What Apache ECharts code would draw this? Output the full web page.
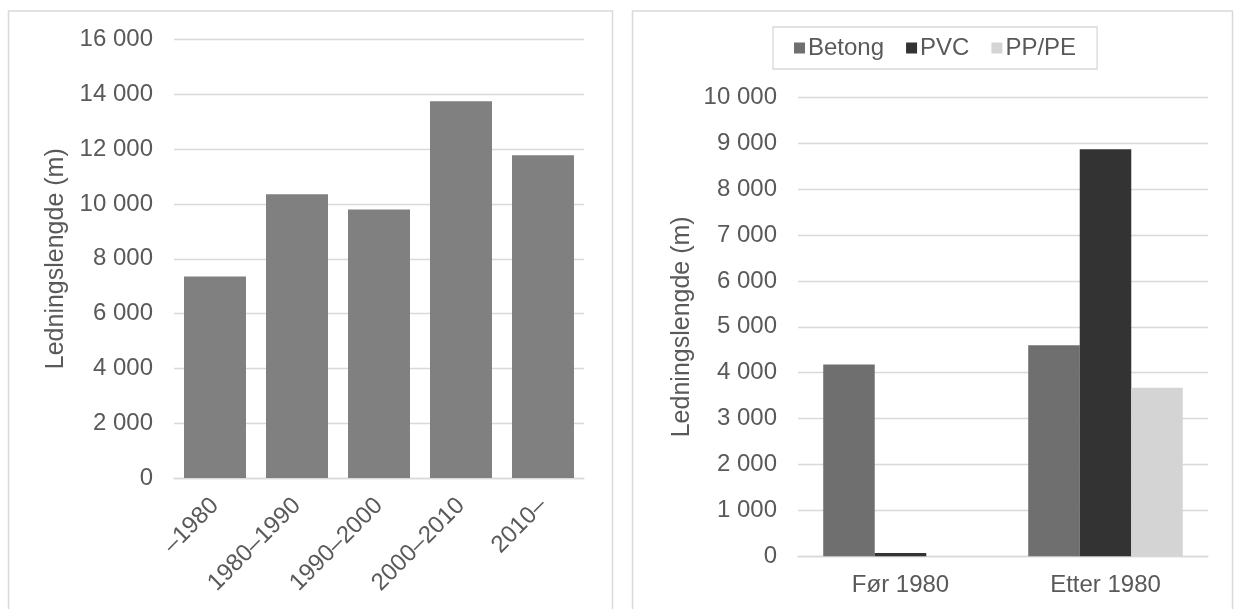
<!DOCTYPE html>
<html>
<head>
<meta charset="utf-8">
<script src="https://cdn.jsdelivr.net/npm/echarts@6/dist/echarts.min.js"></script>
<style>
  html, body { margin: 0; padding: 0; background: #ffffff; }
  #chart { width: 1235px; height: 609px; }
</style>
</head>
<body>
<div id="chart"></div>
<script>
// Pipe length by construction period
const periods = ['–1980', '1980–1990', '1990–2000', '2000–2010', '2010–'];
const lengthByPeriod = [7350, 10350, 9800, 13750, 11780];

// Pipe length by material, before and after 1980
const eras = ['Før 1980', 'Etter 1980'];
const betong = [4180, 4600];
const pvc = [70, 8870];
const ppPe = [0, 3670];

const yName = 'Ledningslengde (m)';
const FONT = '"Liberation Sans", Arial, sans-serif';
const TEXT = '#595959';
const GRID = '#d9d9d9';
const FS = 24;

const fmt = v => String(v).replace(/\B(?=(\d{3})+(?!\d))/g, ' ');

const chart = echarts.init(document.getElementById('chart'), null, { renderer: 'canvas' });

const valueAxis = (gridIndex, max, interval, nameGap) => ({
  type: 'value',
  gridIndex,
  min: 0,
  max,
  interval,
  name: yName,
  nameLocation: 'middle',
  nameRotate: 90,
  nameGap,
  nameTextStyle: { color: TEXT, fontSize: 25, fontFamily: FONT },
  axisLine: { show: false },
  axisTick: { show: false },
  axisLabel: { color: TEXT, fontSize: FS, fontFamily: FONT, margin: 21, formatter: fmt },
  splitLine: { lineStyle: { color: GRID, width: 1.3 } }
});

chart.setOption({
  animation: false,
  backgroundColor: '#ffffff',
  textStyle: { fontFamily: FONT },
  graphic: [
    { type: 'rect', shape: { x: 8.5, y: 11, width: 604, height: 640 },
      style: { fill: null, stroke: GRID, lineWidth: 1.5 }, silent: true },
    { type: 'rect', shape: { x: 632.5, y: 11, width: 600, height: 640 },
      style: { fill: null, stroke: GRID, lineWidth: 1.5 }, silent: true }
  ],
  legend: {
    data: ['Betong', 'PVC', 'PP/PE'],
    left: 773,
    top: 27,
    padding: [9, 21],
    itemGap: 22,
    itemWidth: 11,
    itemHeight: 11,
    icon: 'rect',
    borderColor: GRID,
    borderWidth: 1.3,
    textStyle: { color: TEXT, fontSize: FS, fontFamily: FONT, padding: [0, 0, 0, -2] }
  },
  grid: [
    { left: 174, right: 651, top: 39.5, bottom: 131 },
    { left: 798, right: 27, top: 97.3, bottom: 52.7 }
  ],
  xAxis: [
    {
      type: 'category',
      gridIndex: 0,
      data: periods,
      axisLine: { lineStyle: { color: GRID, width: 1.3 } },
      axisTick: { show: false },
      axisLabel: { color: TEXT, fontSize: FS, fontFamily: FONT, rotate: 45, margin: 24, interval: 0 }
    },
    {
      type: 'category',
      gridIndex: 1,
      data: eras,
      axisLine: { lineStyle: { color: GRID, width: 1.3 } },
      axisTick: { show: false },
      axisLabel: { color: TEXT, fontSize: FS, fontFamily: FONT, margin: 17 }
    }
  ],
  yAxis: [
    valueAxis(0, 16000, 2000, 105),
    valueAxis(1, 10000, 1000, 103)
  ],
  series: [
    {
      name: 'Ledningslengde',
      type: 'bar',
      xAxisIndex: 0,
      yAxisIndex: 0,
      data: lengthByPeriod,
      barCategoryGap: '24.4%',
      itemStyle: { color: '#808080' }
    },
    {
      name: 'Betong', type: 'bar', xAxisIndex: 1, yAxisIndex: 1,
      data: betong, barGap: '0%', barCategoryGap: '24.6%',
      itemStyle: { color: '#6f6f6f' }
    },
    {
      name: 'PVC', type: 'bar', xAxisIndex: 1, yAxisIndex: 1,
      data: pvc, barGap: '0%', barCategoryGap: '24.6%',
      itemStyle: { color: '#333333' }
    },
    {
      name: 'PP/PE', type: 'bar', xAxisIndex: 1, yAxisIndex: 1,
      data: ppPe, barGap: '0%', barCategoryGap: '24.6%',
      itemStyle: { color: '#d4d4d4' }
    }
  ]
});
</script>
</body>
</html>
